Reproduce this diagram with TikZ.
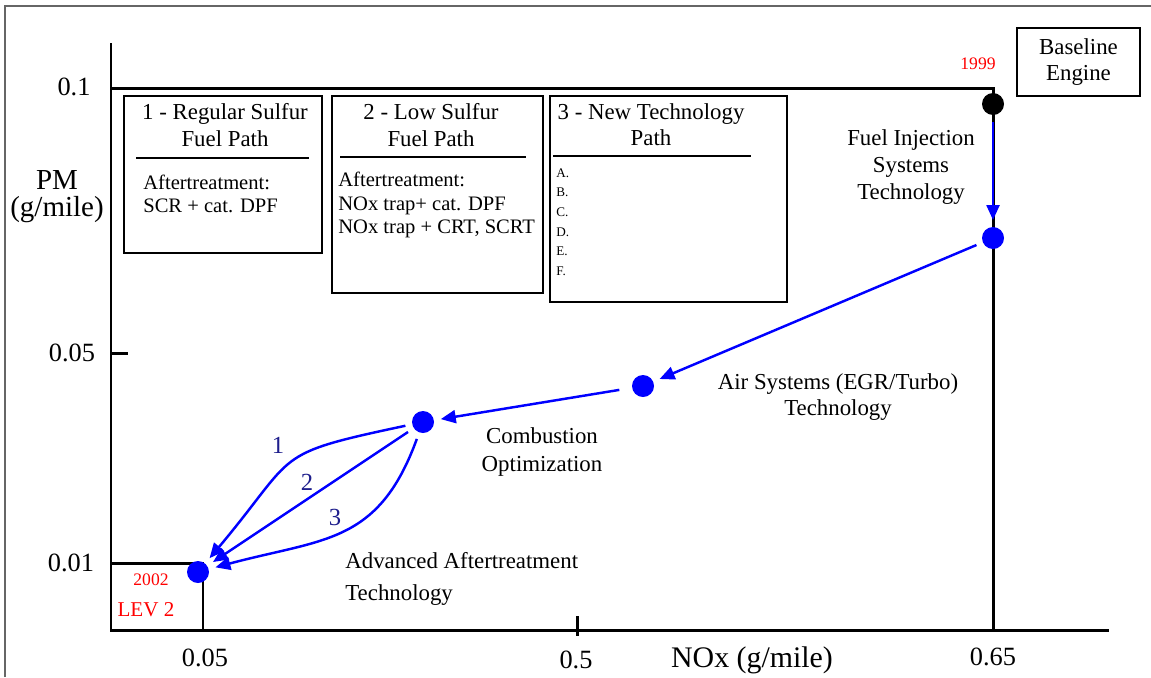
\documentclass[tikz,border=0pt]{standalone}
\usepackage{fontspec}
\setmainfont{Liberation Serif}
\usetikzlibrary{arrows.meta}
\usetikzlibrary{positioning}

\definecolor{techblue}{RGB}{0,0,255}
\definecolor{pathnavy}{RGB}{30,30,140}
\definecolor{yearred}{RGB}{255,0,0}

\tikzset{
    axisline/.style={line width=1.7pt},
    pathbox/.style={draw, line width=1.4pt, inner sep=0pt},
    rule/.style={line width=1.6pt},
    ticklabel/.style={font=\fontsize{15}{17}\selectfont, inner sep=0pt},
    axislabel/.style={font=\fontsize{16.5}{15.4}\selectfont, align=center, inner sep=0pt},
    titletext/.style={font=\fontsize{13}{15}\selectfont, align=center, inner sep=0pt},
    bodytext/.style={font=\fontsize{11.7}{13.3}\selectfont, align=left, inner sep=0pt},
    listtext/.style={font=\fontsize{7.5}{11.2}\selectfont, align=left, inner sep=0pt},
    techlabel/.style={font=\fontsize{13}{15.3}\selectfont, align=center, inner sep=0pt},
    yearlabel/.style={font=\fontsize{10}{12}\selectfont, text=yearred, inner sep=0pt},
    pathnum/.style={font=\fontsize{14}{16}\selectfont, text=pathnavy, inner sep=0pt},
    stagedot/.style={circle, fill=#1, minimum size=0.44cm, inner sep=0pt, outer sep=0.14cm},
    techarrow/.style={techblue, line width=1.4pt, -{Triangle[length=0.3cm, width=0.26cm]}}
}

\begin{document}
\begin{tikzpicture}[x=0.02cm, y=-0.02cm]
    \useasboundingbox (0,0) rectangle (1151,677);
    % page frame
    \draw[black!60, line width=0.6pt] (5,677) -- (5,6) -- (1151,6);

    % axes and limits
    \draw[axisline] (111,43) -- (111,630) -- (1109,630);
    \draw[axisline] (111,88) -- (993,88) -- (993,630);
    \draw[axisline] (111,353) -- (128,353);
    \draw[axisline] (577,616) -- (577,636);
    \draw[axisline] (111,563) -- (203,563) -- (203,630);

    % axis labels
    \node[ticklabel] (y01) at (74,87) {0.1};
    \node[ticklabel] (y005) at (72,353) {0.05};
    \node[ticklabel] (y001) at (71,563) {0.01};
    \node[ticklabel] (x005) at (205,658) {0.05};
    \node[ticklabel] (x05) at (576,660) {0.5};
    \node[ticklabel] (x065) at (993,657) {0.65};
    \node[axislabel, font=\fontsize{17}{19}\selectfont] (xlab) at (752,660) {NOx (g/mile)};
    \node[axislabel] (ylab) at (57,197) {PM\\(g/mile)};

    % fuel path boxes
    \node[pathbox, minimum width=3.96cm, minimum height=3.14cm] (box1) at (223,174.5) {};
    \node[titletext] (title1) at (225,125) {1 - Regular Sulfur\\Fuel Path};
    \draw[rule] (136,158) -- (309,158);
    \node[bodytext, anchor=west] (body1) at (143,194) {Aftertreatment:\\SCR + cat. DPF};

    \node[pathbox, minimum width=4.22cm, minimum height=3.94cm] (box2) at (437.5,194.5) {};
    \node[titletext] (title2) at (431,125) {2 - Low Sulfur\\Fuel Path};
    \draw[rule] (340,157) -- (526,157);
    \node[bodytext, anchor=west] (body2) at (338,205) {Aftertreatment:\\NOx trap+ cat. DPF\\NOx trap + CRT, SCRT};

    \node[pathbox, minimum width=4.74cm, minimum height=4.12cm] (box3) at (668.5,199) {};
    \node[titletext] (title3) at (651,125) {3 - New Technology\\Path};
    \draw[rule] (553,156) -- (751,156);
    \node[listtext, anchor=west] (body3) at (556,222) {A.\\B.\\C.\\D.\\E.\\F.};

    \node[pathbox, titletext, minimum width=2.46cm, minimum height=1.36cm] (base) at (1078.5,62) {Baseline\\Engine};

    % years
    \node[yearlabel] (y1999) at (978,64) {1999};
    \node[yearlabel] (y2002) at (151,580) {2002};
    \node[yearlabel, font=\fontsize{12}{14}\selectfont] (lev) at (146,610) {LEV 2};

    % technology stages
    \node[stagedot=black] (d0) at (993,104) {};
    \node[stagedot=techblue] (d1) at (993,238) {};
    \node[stagedot=techblue] (d2) at (643,386) {};
    \node[stagedot=techblue] (d3) at (423,422) {};
    \node[stagedot=techblue] (d4) at (198,572) {};

    \draw[techarrow] (d0) -- (d1);
    \draw[techarrow] (d1) -- (d2);
    \draw[techarrow, shorten <=0.12cm] (d2) -- (d3);
    \draw[techarrow] (d3) to[out=192, in=50, looseness=1.5] (d4);
    \draw[techarrow] (d3) -- (d4);
    \draw[techarrow] (d3) to[out=250, in=15, looseness=1.2] (d4);

    \node[pathnum] (n1) at (278,445) {1};
    \node[pathnum] (n2) at (307,482) {2};
    \node[pathnum] (n3) at (335,517) {3};

    % stage labels
    \node[techlabel] (fuel) at (911,167) {Fuel Injection\\Systems\\Technology};
    \node[techlabel] (air) at (838,397) {Air Systems (EGR/Turbo)\\Technology};
    \node[techlabel, font=\fontsize{13}{16}\selectfont] (comb) at (542,452) {Combustion\\Optimization};
    \node[techlabel, font=\fontsize{13}{18.2}\selectfont, align=left, anchor=west] (adv) at (345,579) {Advanced Aftertreatment\\Technology};
\end{tikzpicture}
\end{document}
